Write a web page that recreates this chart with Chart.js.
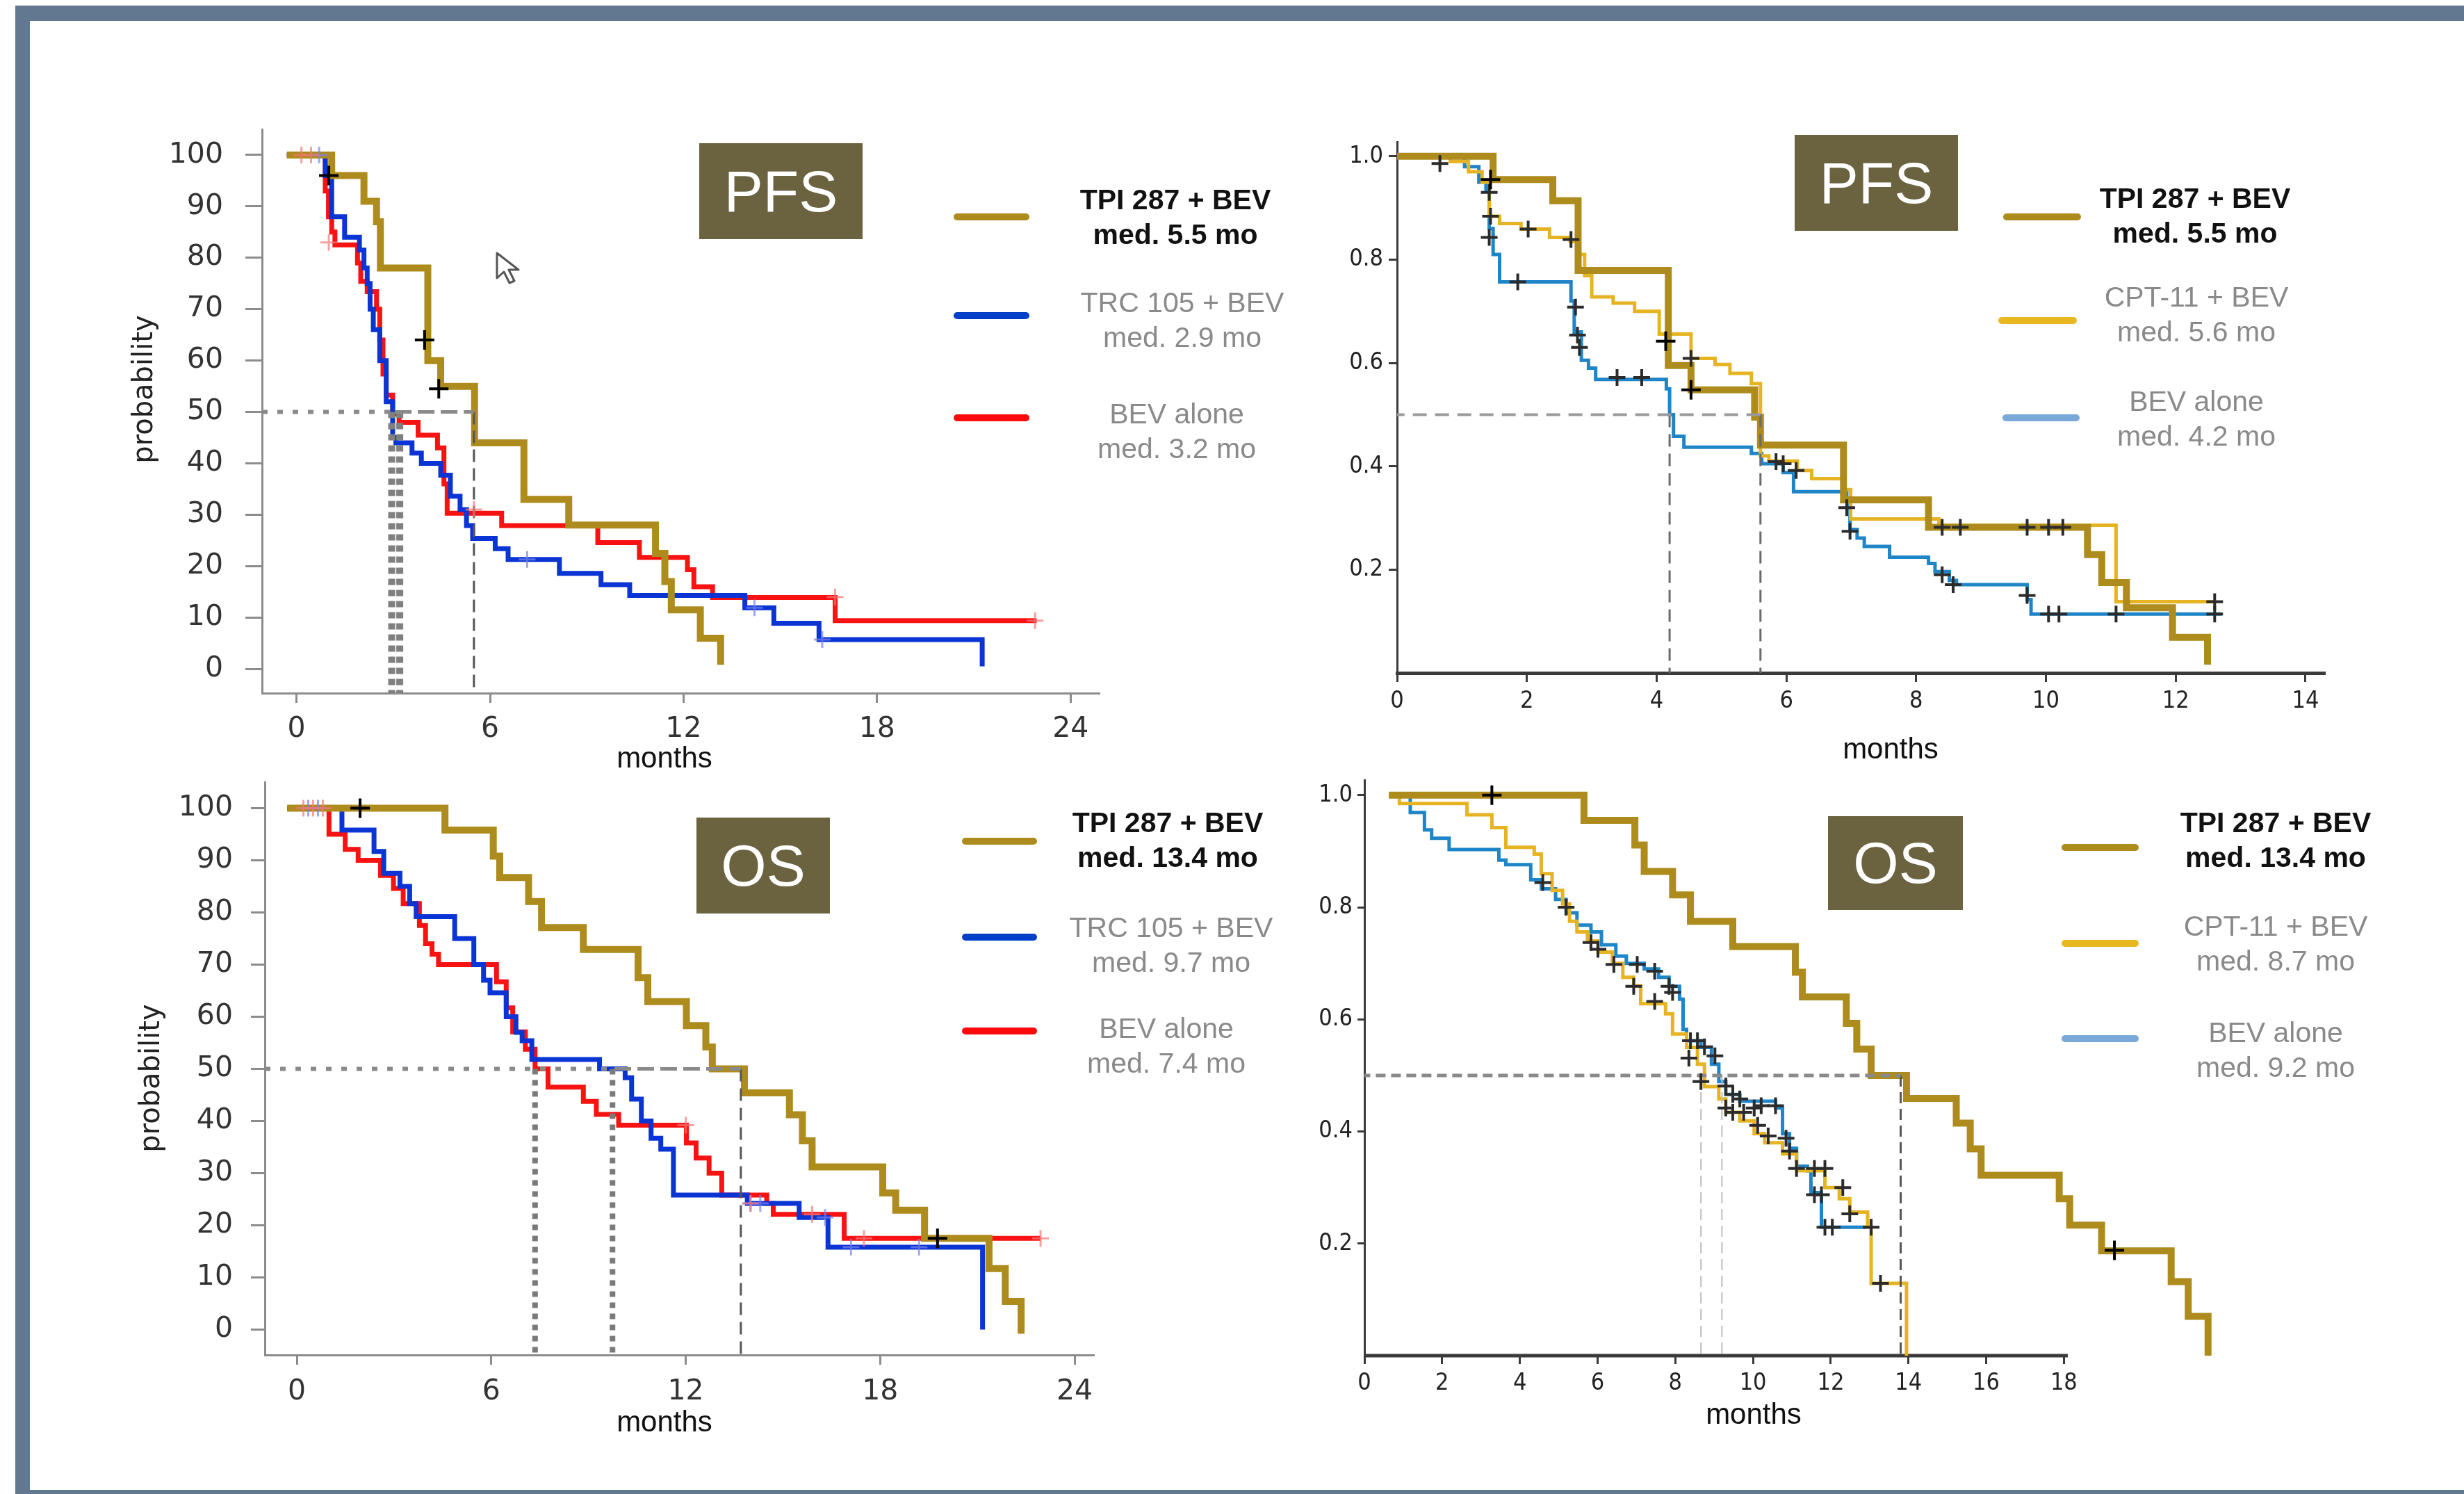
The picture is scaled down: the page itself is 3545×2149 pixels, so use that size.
<!DOCTYPE html>
<html><head><meta charset="utf-8">
<script src="https://cdn.jsdelivr.net/npm/chart.js@4.4.1/dist/chart.umd.min.js"></script>
<style>
html,body{margin:0;padding:0;background:#fff;}
body{width:3545px;height:2149px;position:relative;overflow:hidden;font-family:'Liberation Sans',Arial,sans-serif;}
.bar{position:absolute;background:#627890;}
canvas{position:absolute;}
.box{position:absolute;background:#6B6340;color:#fff;display:flex;align-items:center;justify-content:center;font-size:84px;font-family:'Liberation Sans',Arial,sans-serif;}
.seg{position:absolute;height:10px;border-radius:5px;}
.lg{position:absolute;width:560px;text-align:center;font-size:41px;line-height:50px;color:#8a8a8a;white-space:nowrap;}
.lg.b{color:#111;font-weight:bold;}
.ytitle{position:absolute;width:400px;height:50px;line-height:50px;text-align:center;font-family:'DejaVu Sans',sans-serif;font-size:40px;color:#222;transform:rotate(-90deg);}
.xtitle{position:absolute;width:300px;height:50px;line-height:50px;text-align:center;font-family:'Liberation Sans',Arial,sans-serif;font-size:42px;color:#111;}
</style></head><body>
<div class="bar" style="left:22px;top:8px;width:3523px;height:22px"></div>
<div class="bar" style="left:22px;top:8px;width:21px;height:2141px"></div>
<div class="bar" style="left:22px;top:2143px;width:3523px;height:6px"></div>

<canvas id="pfsA" width="1450" height="960" style="left:150px;top:150px"></canvas>
<canvas id="pfsB" width="1500" height="970" style="left:1880px;top:150px"></canvas>
<canvas id="osA" width="1450" height="985" style="left:150px;top:1090px"></canvas>
<canvas id="osB" width="1400" height="980" style="left:1840px;top:1090px"></canvas>

<div class="ytitle" style="left:5px;top:535px">probability</div>
<div class="ytitle" style="left:15px;top:1526px">probability</div>
<div class="xtitle" style="left:806px;top:1065px">months</div>
<div class="xtitle" style="left:2570px;top:1052px">months</div>
<div class="xtitle" style="left:806px;top:2020px">months</div>
<div class="xtitle" style="left:2373px;top:2009px">months</div>

<div class="box" style="left:1006px;top:206px;width:235px;height:138px">PFS</div>
<div class="box" style="left:2582px;top:194px;width:235px;height:138px">PFS</div>
<div class="box" style="left:1002px;top:1176px;width:192px;height:138px">OS</div>
<div class="box" style="left:2630px;top:1174px;width:194px;height:135px">OS</div>

<svg style="position:absolute;left:712px;top:362px" width="50" height="48" viewBox="0 0 50 48">
  <path d="M3 2 L3 38 L13 29 L21 45 L28 42 L20 26 L34 26 Z" fill="#fff" stroke="#555" stroke-width="3" stroke-linejoin="round"/>
</svg>

<!-- legend top-left -->
<div class="seg" style="left:1372px;top:307px;width:109px;background:#AD8B1C"></div>
<div class="lg b" style="left:1411px;top:262px">TPI 287 + BEV<br>med. 5.5 mo</div>
<div class="seg" style="left:1372px;top:449px;width:109px;background:#0040C8"></div>
<div class="lg" style="left:1421px;top:410px">TRC 105 + BEV<br>med. 2.9 mo</div>
<div class="seg" style="left:1372px;top:596px;width:109px;background:#FA0A0A"></div>
<div class="lg" style="left:1413px;top:570px">BEV alone<br>med. 3.2 mo</div>

<!-- legend top-right -->
<div class="seg" style="left:2882px;top:307px;width:112px;background:#AD8B1C"></div>
<div class="lg b" style="left:2878px;top:260px">TPI 287 + BEV<br>med. 5.5 mo</div>
<div class="seg" style="left:2875px;top:456px;width:113px;background:#E8B820"></div>
<div class="lg" style="left:2880px;top:402px">CPT-11 + BEV<br>med. 5.6 mo</div>
<div class="seg" style="left:2881px;top:596px;width:111px;background:#7AA8D8"></div>
<div class="lg" style="left:2880px;top:552px">BEV alone<br>med. 4.2 mo</div>

<!-- legend bottom-left -->
<div class="seg" style="left:1384px;top:1205px;width:108px;background:#AD8B1C"></div>
<div class="lg b" style="left:1400px;top:1158px">TPI 287 + BEV<br>med. 13.4 mo</div>
<div class="seg" style="left:1384px;top:1343px;width:108px;background:#0040C8"></div>
<div class="lg" style="left:1405px;top:1309px">TRC 105 + BEV<br>med. 9.7 mo</div>
<div class="seg" style="left:1384px;top:1478px;width:108px;background:#FA0A0A"></div>
<div class="lg" style="left:1398px;top:1454px">BEV alone<br>med. 7.4 mo</div>

<!-- legend bottom-right -->
<div class="seg" style="left:2966px;top:1214px;width:111px;background:#AD8B1C"></div>
<div class="lg b" style="left:2994px;top:1158px">TPI 287 + BEV<br>med. 13.4 mo</div>
<div class="seg" style="left:2966px;top:1352px;width:111px;background:#E8B820"></div>
<div class="lg" style="left:2994px;top:1307px">CPT-11 + BEV<br>med. 8.7 mo</div>
<div class="seg" style="left:2966px;top:1489px;width:111px;background:#7AA8D8"></div>
<div class="lg" style="left:2994px;top:1460px">BEV alone<br>med. 9.2 mo</div>

<script>
// ---------- tick labels ----------
const ticksPct = [0, 10, 20, 30, 40, 50, 60, 70, 80, 90, 100];
const ticksMonths24 = [0, 6, 12, 18, 24];
const ticksProb = [0.2, 0.4, 0.6, 0.8, 1.0];
const ticksMonths14 = [0, 2, 4, 6, 8, 10, 12, 14];
const ticksMonths18 = [0, 2, 4, 6, 8, 10, 12, 14, 16, 18];

// ---------- PFS, top-left (probability %) ----------
const pfsA_tpi_t = [-0.3, 1.09, 2.09, 2.48, 2.6, 4.07, 4.47, 5.52, 7.05, 8.44, 11.13, 11.42, 11.62, 12.52, 13.15];
const pfsA_tpi_p = [100, 96, 91, 87, 78, 60, 55, 44, 33, 28, 22.5, 17, 11.5, 6, 0.8];
const pfsA_trc_t = [-0.3, 0.89, 1.09, 1.49, 1.95, 2.09, 2.19, 2.28, 2.38, 2.58, 2.78, 2.98, 3.08, 3.58, 3.87, 4.47, 4.77, 5.07, 5.27, 5.46, 6.16, 6.56, 8.15, 9.44, 10.33, 13.9, 14.8, 16.2, 21.26];
const pfsA_trc_p = [100, 96, 88, 84, 81.5, 78, 75, 70, 66, 60, 52, 45, 44, 42, 40, 37.7, 33.6, 31, 27.9, 25.4, 23.4, 21.3, 18.6, 16.4, 14.3, 11.9, 8.9, 5.7, 0.5];
const pfsA_bev_t = [-0.3, 0.89, 0.99, 1.09, 1.19, 1.89, 1.99, 2.19, 2.48, 2.58, 2.68, 2.78, 2.98, 3.18, 3.77, 4.37, 4.57, 4.67, 6.36, 9.34, 10.63, 12.12, 12.32, 12.9, 16.7, 22.95];
const pfsA_bev_p = [100, 93, 88, 85, 82.5, 79, 75.4, 73.4, 70, 64, 57.4, 53.3, 49.6, 48, 45.5, 43, 36, 30.3, 27.9, 24.6, 21.7, 19.3, 16, 13.9, 9.4, 9.4];
const pfsA_tpiCens_t = [1.0, 3.97, 4.41];
const pfsA_tpiCens_p = [96, 64, 54.5];
const pfsA_bevCens_t = [0.15, 0.45, 1.0, 5.5, 16.7, 22.9];
const pfsA_bevCens_p = [100, 100, 83, 31, 14, 9.4];
const pfsA_trcCens_t = [0.7, 7.15, 14.2, 16.3];
const pfsA_trcCens_p = [100, 21.3, 11.9, 5.7];
const pfsA_medDot_t = [-1.07, 3.05], pfsA_medDot_p = [50, 50];
const pfsA_medDash_t = [3.05, 5.5], pfsA_medDash_p = [50, 50];
const pfsA_medV = [2.95, 3.2];      // TRC / BEV medians (dotted drops)
const pfsA_medTpi = 5.5;            // TPI median (dashed drop)

// ---------- PFS, top-right (probability 0-1) ----------
const pfsB_tpi_t = [0, 1.48, 2.40, 2.79, 4.18, 4.53, 5.51, 5.6, 6.88, 8.19, 10.64, 10.86, 11.24, 11.95, 12.49];
const pfsB_tpi_s = [1.0, 0.955, 0.914, 0.779, 0.595, 0.548, 0.495, 0.441, 0.335, 0.282, 0.229, 0.175, 0.126, 0.069, 0.016];
const pfsB_cpt_t = [0, 0.82, 1.1, 1.31, 1.42, 1.58, 1.91, 2.35, 2.67, 2.78, 2.89, 3.0, 3.33, 3.66, 4.04, 4.53, 4.9, 5.13, 5.46, 5.6, 5.73, 6.17, 6.39, 6.88, 6.99, 8.35, 11.08, 12.6];
const pfsB_cpt_s = [1.0, 0.99, 0.97, 0.95, 0.884, 0.87, 0.859, 0.843, 0.835, 0.81, 0.769, 0.728, 0.716, 0.70, 0.656, 0.609, 0.597, 0.58, 0.56, 0.42, 0.41, 0.392, 0.376, 0.355, 0.298, 0.286, 0.138, 0.138];
const pfsB_bev_t = [0, 1.04, 1.26, 1.37, 1.42, 1.48, 1.58, 2.68, 2.73, 2.84, 2.95, 3.06, 4.15, 4.2, 4.26, 4.42, 5.46, 5.62, 5.95, 6.11, 6.93, 6.98, 7.09, 7.2, 7.59, 8.19, 8.29, 8.51, 8.62, 9.71, 9.77, 12.71];
const pfsB_bev_s = [1.0, 0.98, 0.95, 0.933, 0.86, 0.81, 0.757, 0.72, 0.66, 0.605, 0.59, 0.568, 0.55, 0.50, 0.458, 0.437, 0.425, 0.405, 0.388, 0.351, 0.335, 0.278, 0.261, 0.245, 0.224, 0.212, 0.196, 0.179, 0.171, 0.142, 0.114, 0.114];
const pfsB_tpiCens_t = [1.44, 4.14, 4.53];
const pfsB_tpiCens_s = [0.955, 0.642, 0.548];
const pfsB_cens_t = [0.66, 1.42, 1.44, 1.42, 2.02, 1.86, 2.68, 2.75, 2.78, 2.81, 3.39, 3.77, 4.53, 5.84, 5.95, 6.15, 6.93, 6.98, 8.40, 8.57, 9.71, 10.04, 10.2, 11.08, 12.6, 12.6, 8.4, 8.68, 9.71, 10.04, 10.26];
const pfsB_cens_s = [0.986, 0.93, 0.884, 0.843, 0.859, 0.757, 0.839, 0.708, 0.654, 0.63, 0.572, 0.572, 0.609, 0.409, 0.405, 0.392, 0.32, 0.274, 0.19, 0.171, 0.15, 0.114, 0.114, 0.114, 0.138, 0.114, 0.282, 0.282, 0.282, 0.282, 0.282];
const pfsB_medH_t = [-0.1, 5.6], pfsB_medH_s = [0.5, 0.5];
const pfsB_medV = [4.2, 5.6];

// ---------- OS, bottom-left (probability %) ----------
const osA_tpi_t = [-0.3, 4.57, 6.06, 6.26, 7.15, 7.55, 8.84, 10.53, 10.83, 12.02, 12.62, 12.82, 13.81, 15.2, 15.6, 15.9, 18.08, 18.48, 19.37, 21.36, 21.86, 22.35];
const osA_tpi_p = [100, 95.8, 90.8, 86.7, 82.1, 77.1, 72.9, 67.5, 62.9, 58.3, 54.2, 50, 45.4, 41.2, 36.2, 31.2, 26.2, 22.9, 17.5, 11.7, 5.4, -0.8];
const osA_trc_t = [-0.3, 1.39, 2.38, 2.68, 3.18, 3.48, 3.68, 4.87, 5.46, 5.76, 5.96, 6.46, 6.76, 6.95, 7.25, 9.34, 10.13, 10.33, 10.63, 10.93, 11.23, 11.62, 13.9, 15.5, 16.39, 21.16];
const osA_trc_p = [100, 95.8, 91.7, 87.5, 85, 81.7, 79.2, 75, 70, 67, 64.6, 60, 57, 55.4, 51.8, 50, 48.3, 44.2, 40, 36.7, 34.6, 25.8, 24.2, 21.5, 15.8, 0];
const osA_bev_t = [-0.3, 0.99, 1.49, 1.89, 2.58, 2.98, 3.28, 3.78, 3.97, 4.17, 4.37, 6.16, 6.46, 6.66, 7.05, 7.35, 7.75, 8.84, 9.24, 9.93, 12.02, 12.32, 12.72, 13.11, 14.5, 14.7, 16.89, 22.95];
const osA_bev_p = [100, 95, 92.1, 90, 87.1, 84.6, 81.7, 77.5, 74, 72, 70, 66.7, 61.7, 57.1, 53.75, 50, 46.5, 43.75, 41.25, 39.2, 35.8, 32.9, 30, 25.8, 24.2, 22.1, 17.5, 17.5];
const osA_tpiCens_t = [1.95, 19.77];
const osA_tpiCens_p = [100, 17.5];
const osA_bevCens_t = [0.2, 0.5, 0.8, 12.0, 14.0, 15.9, 17.5, 22.95];
const osA_bevCens_p = [100, 100, 100, 39.2, 24.2, 22.1, 17.5, 17.5];
const osA_trcCens_t = [0.35, 0.65, 14.0, 14.3, 16.3, 17.1, 19.2];
const osA_trcCens_p = [100, 100, 24.2, 24.2, 21.5, 15.8, 15.8];
const osA_medDot_t = [-0.99, 9.8], osA_medDot_p = [50, 50];
const osA_medDash_t = [9.8, 13.7], osA_medDash_p = [50, 50];
const osA_medV = [7.35, 9.74];
const osA_medTpi = 13.7;

// ---------- OS, bottom-right (probability 0-1) ----------
const osB_tpi_t = [0.63, 5.65, 6.96, 7.2, 7.93, 8.39, 9.48, 11.09, 11.27, 12.4, 12.67, 13.04, 13.95, 15.23, 15.59, 15.87, 17.88, 18.15, 18.97, 20.76, 21.2, 21.71];
const osB_tpi_s = [1.0, 0.955, 0.911, 0.864, 0.822, 0.775, 0.73, 0.684, 0.64, 0.593, 0.547, 0.5, 0.459, 0.415, 0.369, 0.322, 0.28, 0.233, 0.187, 0.132, 0.07, 0.0];
const osB_cpt_t = [0.63, 0.9, 2.64, 3.28, 3.64, 4.37, 4.55, 4.83, 5.1, 5.28, 5.47, 5.74, 6.01, 6.38, 6.65, 6.93, 7.11, 7.75, 7.93, 8.29, 8.57, 8.75, 9.12, 9.3, 9.66, 10.03, 10.3, 10.76, 11.12, 11.85, 12.22, 12.49, 12.95, 13.04, 13.95];
const osB_cpt_s = [1.0, 0.985, 0.965, 0.942, 0.907, 0.895, 0.86, 0.83, 0.806, 0.775, 0.756, 0.74, 0.72, 0.70, 0.675, 0.66, 0.628, 0.61, 0.574, 0.55, 0.52, 0.48, 0.458, 0.434, 0.419, 0.396, 0.38, 0.36, 0.33, 0.30, 0.28, 0.256, 0.229, 0.129, 0.0];
const osB_bev_t = [0.63, 1.18, 1.545, 1.73, 2.18, 3.46, 3.64, 4.28, 4.555, 4.92, 5.19, 5.47, 5.83, 6.1, 6.47, 6.74, 7.2, 7.57, 7.84, 8.11, 8.2, 8.29, 8.66, 8.93, 9.12, 9.3, 9.66, 10.58, 10.76, 10.94, 11.12, 11.4, 11.49, 11.76, 13.04];
const osB_bev_s = [1.0, 0.969, 0.938, 0.923, 0.903, 0.884, 0.876, 0.849, 0.833, 0.814, 0.79, 0.768, 0.756, 0.733, 0.713, 0.70, 0.69, 0.675, 0.659, 0.636, 0.582, 0.562, 0.55, 0.52, 0.489, 0.466, 0.454, 0.442, 0.396, 0.37, 0.338, 0.33, 0.291, 0.229, 0.229];
const osB_tpiCens_t = [3.28, 19.3];
const osB_tpiCens_s = [1.0, 0.188];
const osB_cens_t = [4.59, 5.19, 5.83, 6.01, 6.42, 6.93, 7.02, 7.47, 7.47, 7.84, 7.93, 8.39, 8.57, 8.75, 9.02, 8.35, 8.66, 9.3, 9.48, 9.66, 9.3, 9.48, 9.76, 10.03, 10.21, 10.58, 10.12, 10.39, 10.85, 10.94, 11.12, 11.58, 11.85, 11.58, 11.76, 12.31, 12.49, 11.85, 12.04, 13.04, 13.28];
const osB_cens_s = [0.844, 0.80, 0.737, 0.725, 0.698, 0.659, 0.698, 0.686, 0.632, 0.659, 0.648, 0.562, 0.562, 0.551, 0.535, 0.531, 0.489, 0.481, 0.466, 0.458, 0.442, 0.434, 0.434, 0.442, 0.446, 0.446, 0.411, 0.392, 0.388, 0.365, 0.334, 0.334, 0.334, 0.287, 0.287, 0.30, 0.253, 0.229, 0.229, 0.229, 0.129];
const osB_medH_t = [-0.1, 13.8], osB_medH_s = [0.5, 0.5];
const osB_medVLight = [8.66, 9.2];
const osB_medTpi = 13.8;

// ---------- colours ----------
const GOLD = '#AD8B1C', BLUE = '#0A34D4', RED = '#F81212', YELLOW = '#E6B422', SKY = '#1E85C8';

// ---------- helpers ----------
const xy = (t, s) => t.map((v, i) => ({x: v, y: s[i]}));
function curve(label, t, s, color, width) {
  return {label, data: xy(t, s), borderColor: color, backgroundColor: color, borderWidth: width,
          stepped: true, pointRadius: 0, tension: 0, fill: false, borderCapStyle: 'butt', borderJoinStyle: 'miter'};
}
function marks(label, t, s, color, r, w) {
  return {label, data: xy(t, s), showLine: false, pointStyle: 'cross', pointRadius: r,
          pointBorderColor: color, pointBorderWidth: w, borderColor: color, backgroundColor: color};
}
function refLine(label, t, s, color, width, dash) {
  return {label, data: xy(t, s), borderColor: color, borderWidth: width, borderDash: dash,
          pointRadius: 0, stepped: false, fill: false, tension: 0, borderCapStyle: 'butt'};
}
const vline = (label, x, y0, y1, color, width, dash) => refLine(label, [x, x], [y0, y1], color, width, dash);

const partialXAxis = {
  id: 'partialXAxis',
  beforeDatasetsDraw(chart, args, opts) {
    if (!opts || opts.to === undefined) return;
    const sx = chart.scales.x, ctx = chart.ctx, y = chart.chartArea.bottom;
    ctx.save();
    ctx.strokeStyle = opts.color; ctx.lineWidth = opts.width;
    ctx.beginPath();
    ctx.moveTo(sx.getPixelForValue(opts.from), y);
    ctx.lineTo(sx.getPixelForValue(opts.to), y);
    ctx.stroke();
    ctx.restore();
  }
};

function makeChart(id, L, xs, ys, datasets, extra) {
  const opts = {
    responsive: false, animation: false, devicePixelRatio: 1, events: [],
    layout: {padding: {left: 0, right: L.padR, top: L.padT, bottom: 0}},
    plugins: Object.assign({legend: {display: false}, tooltip: {enabled: false}}, extra || {}),
    scales: {
      x: {
        type: 'linear', min: xs.min, max: xs.max,
        afterFit: s => { s.height = L.xH; s.paddingLeft = 0; s.paddingRight = 0; },
        afterBuildTicks: s => { s.ticks = xs.ticks.map(v => ({value: v})); },
        grid: {drawOnChartArea: false, drawTicks: true, tickLength: xs.tl, tickWidth: xs.tw, tickColor: xs.axisColor},
        border: {display: xs.border !== false, color: xs.axisColor, width: xs.aw},
        ticks: {font: xs.font, color: xs.labelColor, padding: xs.pad, maxRotation: 0, autoSkip: false,
                callback: v => String(v)},
        title: {display: false}
      },
      y: {
        type: 'linear', min: ys.min, max: ys.max,
        afterFit: s => { s.width = L.yW; s.paddingTop = 0; s.paddingBottom = 0; },
        afterBuildTicks: s => { s.ticks = ys.ticks.map(v => ({value: v})); },
        grid: {drawOnChartArea: false, drawTicks: true, tickLength: ys.tl, tickWidth: ys.tw, tickColor: ys.axisColor},
        border: {display: true, color: ys.axisColor, width: ys.aw},
        ticks: {font: ys.font, color: ys.labelColor, padding: ys.pad, autoSkip: false,
                callback: ys.fmt},
        title: {display: false}
      }
    }
  };
  return new Chart(document.getElementById(id), {
    type: 'line', data: {datasets}, options: opts,
    plugins: extra && extra.partialXAxis ? [partialXAxis] : []
  });
}

const fontA = {family: "'DejaVu Sans', 'Liberation Sans', sans-serif", size: 41};
const fontNarrow = {family: "'Liberation Sans Narrow', 'DejaVu Sans Condensed', 'Liberation Sans', sans-serif", size: 34};
const GRAYAX = '#8c8c8c';

// ---------- Panel: PFS top-left ----------
makeChart('pfsA', {yW: 227, xH: 113, padR: 12, padT: 36},
  {min: -1.07, max: 24.9, ticks: ticksMonths24, tl: 14, tw: 3, aw: 3, axisColor: GRAYAX, font: fontA, labelColor: '#333', pad: 14},
  {min: -4.7, max: 105, ticks: ticksPct, tl: 24, tw: 3, aw: 3, axisColor: GRAYAX, font: fontA, labelColor: '#333', pad: 32, fmt: v => String(v)},
  [
    marks('TPI censored', pfsA_tpiCens_t, pfsA_tpiCens_p, '#000', 14, 4),
    marks('BEV censored', pfsA_bevCens_t, pfsA_bevCens_p, 'rgba(245,120,120,0.7)', 12, 3),
    marks('TRC censored', pfsA_trcCens_t, pfsA_trcCens_p, 'rgba(120,130,240,0.7)', 12, 3),
    refLine('median h dotted', pfsA_medDot_t, pfsA_medDot_p, '#8a8a8a', 6, [8, 14]),
    refLine('median h dashed', pfsA_medDash_t, pfsA_medDash_p, '#8a8a8a', 5, [24, 9]),
    vline('median TRC', pfsA_medV[0], 50, -4.7, '#808080', 10, [9, 7]),
    vline('median BEV', pfsA_medV[1], 50, -4.7, '#808080', 10, [9, 7]),
    vline('median TPI', pfsA_medTpi, 50, -4.7, '#555', 3, [18, 9]),
    curve('TPI 287 + BEV', pfsA_tpi_t, pfsA_tpi_p, GOLD, 10),
    curve('TRC 105 + BEV', pfsA_trc_t, pfsA_trc_p, BLUE, 7),
    curve('BEV alone', pfsA_bev_t, pfsA_bev_p, RED, 7)
  ]);

// ---------- Panel: PFS top-right ----------
makeChart('pfsB', {yW: 130, xH: 152, padR: 35, padT: 54},
  {min: 0, max: 14.3, ticks: ticksMonths14, tl: 13, tw: 3, aw: 5, axisColor: '#3a3a3a', font: fontNarrow, labelColor: '#222', pad: 8},
  {min: 0, max: 1.028, ticks: ticksProb, tl: 12, tw: 3, aw: 3, axisColor: '#3a3a3a', font: fontNarrow, labelColor: '#222', pad: 8, fmt: v => v.toFixed(1)},
  [
    marks('TPI censored', pfsB_tpiCens_t, pfsB_tpiCens_s, '#000', 14, 4),
    marks('censored', pfsB_cens_t, pfsB_cens_s, '#2b2b2b', 12, 4),
    refLine('median h', pfsB_medH_t, pfsB_medH_s, '#9a9a9a', 4, [20, 12]),
    vline('median BEV', pfsB_medV[0], 0.5, 0, '#6a6a6a', 3, [18, 10]),
    vline('median CPT', pfsB_medV[1], 0.5, 0, '#6a6a6a', 3, [18, 10]),
    curve('TPI 287 + BEV', pfsB_tpi_t, pfsB_tpi_s, GOLD, 10),
    curve('CPT-11 + BEV', pfsB_cpt_t, pfsB_cpt_s, YELLOW, 5),
    curve('BEV alone', pfsB_bev_t, pfsB_bev_s, SKY, 5)
  ]);

// ---------- Panel: OS bottom-left ----------
makeChart('osA', {yW: 231, xH: 126, padR: 26, padT: 35},
  {min: -0.99, max: 24.6, ticks: ticksMonths24, tl: 14, tw: 3, aw: 3, axisColor: GRAYAX, font: fontA, labelColor: '#333', pad: 15},
  {min: -4.87, max: 105, ticks: ticksPct, tl: 20, tw: 3, aw: 3, axisColor: GRAYAX, font: fontA, labelColor: '#333', pad: 26, fmt: v => String(v)},
  [
    marks('TPI censored', osA_tpiCens_t, osA_tpiCens_p, '#000', 14, 4),
    marks('BEV censored', osA_bevCens_t, osA_bevCens_p, 'rgba(245,120,120,0.7)', 12, 3),
    marks('TRC censored', osA_trcCens_t, osA_trcCens_p, 'rgba(120,130,240,0.7)', 12, 3),
    refLine('median h dotted', osA_medDot_t, osA_medDot_p, '#8a8a8a', 6, [8, 14]),
    refLine('median h dashed', osA_medDash_t, osA_medDash_p, '#8a8a8a', 5, [24, 9]),
    vline('median BEV', osA_medV[0], 50, -4.87, '#7a7a7a', 8, [8, 8]),
    vline('median TRC', osA_medV[1], 50, -4.87, '#7a7a7a', 8, [8, 8]),
    vline('median TPI', osA_medTpi, 50, -4.87, '#555', 3, [18, 10]),
    curve('TPI 287 + BEV', osA_tpi_t, osA_tpi_p, GOLD, 10),
    curve('TRC 105 + BEV', osA_trc_t, osA_trc_p, BLUE, 7),
    curve('BEV alone', osA_bev_t, osA_bev_p, RED, 7)
  ]);

// ---------- Panel: OS bottom-right ----------
makeChart('osB', {yW: 123, xH: 120, padR: 47, padT: 32},
  {min: 0, max: 22, ticks: ticksMonths18, tl: 12, tw: 3, aw: 4, axisColor: '#3a3a3a', border: false, font: fontNarrow, labelColor: '#222', pad: 8},
  {min: 0, max: 1.027, ticks: ticksProb, tl: 10, tw: 3, aw: 3, axisColor: '#3a3a3a', font: fontNarrow, labelColor: '#222', pad: 7, fmt: v => v.toFixed(1)},
  [
    marks('TPI censored', osB_tpiCens_t, osB_tpiCens_s, '#000', 14, 4),
    marks('censored', osB_cens_t, osB_cens_s, '#2b2b2b', 12, 4),
    refLine('median h', osB_medH_t, osB_medH_s, '#8a8a8a', 5, [14, 8]),
    vline('median CPT', osB_medVLight[0], 0.5, 0, '#bdbdbd', 2, [16, 8]),
    vline('median BEV', osB_medVLight[1], 0.5, 0, '#bdbdbd', 2, [16, 8]),
    vline('median TPI', osB_medTpi, 0.5, 0, '#555', 3, [16, 8]),
    curve('TPI 287 + BEV', osB_tpi_t, osB_tpi_s, GOLD, 10),
    curve('CPT-11 + BEV', osB_cpt_t, osB_cpt_s, YELLOW, 5),
    curve('BEV alone', osB_bev_t, osB_bev_s, SKY, 5)
  ],
  {partialXAxis: {from: 0, to: 18.1, color: '#3a3a3a', width: 5}});
</script>
</body></html>
